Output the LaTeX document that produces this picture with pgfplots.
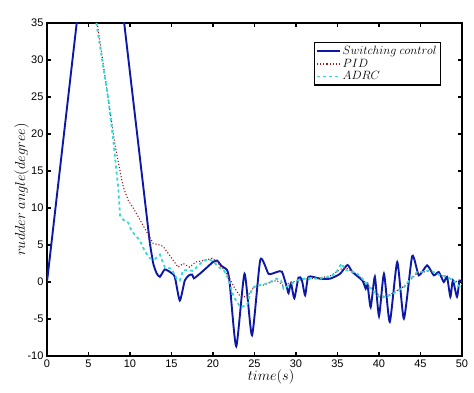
\documentclass[border=0pt]{standalone}
\usepackage{fontspec}
\setmainfont{Liberation Sans}
\usepackage{pgfplots}
\pgfplotsset{compat=1.18}
\definecolor{sw}{rgb}{0.05,0.1,0.65}
\definecolor{pid}{rgb}{0.6,0.1,0.12}
\definecolor{adrc}{rgb}{0.2,0.85,0.85}
\begin{document}
\begin{tikzpicture}
\begin{axis}[
  scale only axis, width=415pt, height=333pt,
  xmin=0, xmax=50, ymin=-10, ymax=35,
  xtick={0,5,...,50}, ytick={-10,-5,...,35},
  tick align=inside, major tick length=4pt,
  axis line style={line width=1.6pt},
  every tick/.style={black, line width=1.3pt},
  /pgf/number format/assume math mode=true,
  tick label style={font=\fontsize{11}{12}\selectfont},
  xlabel={$time(s)$}, ylabel={$rudder\ angle(degree)$},
  label style={font=\fontsize{13.5}{14}\selectfont},
  xlabel style={at={(ticklabel cs:0.54)}, yshift=4pt},
  ylabel style={yshift=-8pt},
  legend style={at={(0.949,0.943)}, anchor=north east, draw=black, line width=1.3pt,
    font=\fontsize{11.5}{12}\selectfont, inner sep=1.5pt, row sep=-1pt,
    cells={anchor=west}},
  legend image post style={line width=1.6pt},
  legend image code/.code={\draw[#1] (0cm,0cm) -- (0.8cm,0cm);},
]
\coordinate (sw) at (rel axis cs:0,0);
\addplot[color=sw, line width=1.9pt, smooth, tension=0.25] coordinates {
(0,0) (3.58,35) (6.4,62)};
\addplot[color=sw, line width=1.9pt, forget plot] coordinates {
(6.4,62) (9.3,35) (12.4,5.2)};
\addplot[color=sw, line width=1.9pt, smooth, tension=0.35, forget plot] coordinates {
(12.4,5.2) (12.8,2.5) (13.2,1.2) (13.6,0.7) (14.2,1.7) (15.0,1.2) (15.4,0.7) (16.0,-2.5) (16.6,0.2) (17.1,0.9) (17.5,1.0) (17.7,0.5) (18.5,1.2) (19.2,1.9) (20.0,2.7) (20.5,2.9) (21.0,2.2) (21.7,1.6) (22.0,0) (22.8,-8.7) (23.8,1.1) (24.7,-7.2) (25.7,3.0) (26.7,1.1) (27.7,1.35) (28.3,1.4) (28.9,-0.7) (29.1,-1.5) (29.4,-0.2) (29.8,-2.2) (30.3,0.6) (30.7,0.3) (31.1,-1.8) (31.5,0.7) (32.9,0.45) (34.1,0.45) (35.3,1.1) (36.2,2.3) (36.8,1.35) (38.0,0.2) (38.4,-0.9) (38.6,-0.2) (39.0,-3.4) (39.5,0.7) (40.0,-4.6) (40.6,1.1) (41.3,-5.4) (42.2,2.7) (43.0,-4.95) (44.0,3.5) (44.8,0.9) (45.8,2.25) (46.6,0.9) (47.2,1.35) (47.8,0) (48.2,0.7) (48.6,-2.0) (48.9,0.2) (49.4,-2.0) (49.7,0.2) (50,0)
};
\addlegendentry{$Switching\ control$}
\addplot[color=pid, line width=1.1pt, dotted] coordinates {
(6.05,35) (7.4,24.6) (8.2,18.5) (8.8,15) (9.2,12.8) (9.8,11.0) (10.5,9.8) (11.2,8.4) (12.0,6.8) (12.8,5.2) (13.6,5.0) (14.0,4.8) (14.9,3.4) (15.8,2.0) (16.4,2.5) (17.2,2.0) (17.9,2.7) (18.9,2.9) (19.9,3.2) (20.5,2.7) (21.2,1.8) (21.9,0.7) (22.6,-0.8) (23.3,-2.0) (24.1,-2.0) (25.1,-0.45) (26.1,-0.4) (27.0,0.0) (27.7,0.2) (28.5,-0.5) (29.5,0.0) (31,0.4) (32.5,0.5) (34.1,0.8) (35.5,1.8) (36.2,1.8) (37.4,1.0) (39.0,-0.8) (40.2,-2.0) (41.4,-1.7) (43.0,-0.6) (44.6,1.2) (46.2,1.5) (47.4,0.9) (48.6,0.4) (50,-0.2)
};
\addlegendentry{$PID$}
\addplot[color=adrc, line width=1.8pt, dashed] coordinates {
(5.95,35) (7.4,24.6) (8.0,19) (8.6,12.5) (8.8,9) (9.2,8.4) (9.8,8.0) (10.2,6.9) (11.2,5.6) (11.8,4.1) (12.4,3.2) (13.0,3.1) (13.6,3.7) (14.2,2.0) (15.0,1.8) (15.6,0.5) (16.0,0.2) (16.4,1.6) (16.9,1.6) (17.6,1.5) (18.2,2.2) (18.9,2.9) (19.5,3.1) (20.1,2.7) (20.7,2.0) (21.3,1.6) (21.8,0.5) (22.5,-2.0) (23.3,-3.4) (24.1,-3.1) (24.5,-1.5) (24.9,-0.7) (25.7,-0.4) (26.5,-0.2) (27.7,0.45) (28.2,0.2) (28.5,-0.9) (29.2,-0.4) (30.1,0.2) (31.2,0.5) (32.5,0.45) (33.3,0.6) (34.1,0.7) (34.8,1.2) (35.5,2.5) (35.9,1.6) (36.6,1.5) (37.4,1.1) (38.2,0.2) (39.0,-0.9) (39.6,-1.5) (40.2,-2.2) (40.8,-1.9) (41.4,-1.8) (42.2,-1.2) (43.0,-0.7) (43.8,0.4) (44.6,1.35) (45.4,1.4) (46.2,1.6) (46.8,1.2) (47.4,0.9) (48.0,0.8) (48.6,0.45) (49.2,0.0) (49.8,-0.7) (50,-0.3)
};
\addlegendentry{$ADRC$}
\end{axis}
\pgfresetboundingbox
\path ([shift={(-47pt,-37pt)}]sw) rectangle ++(474pt,393pt);
\end{tikzpicture}
\end{document}
